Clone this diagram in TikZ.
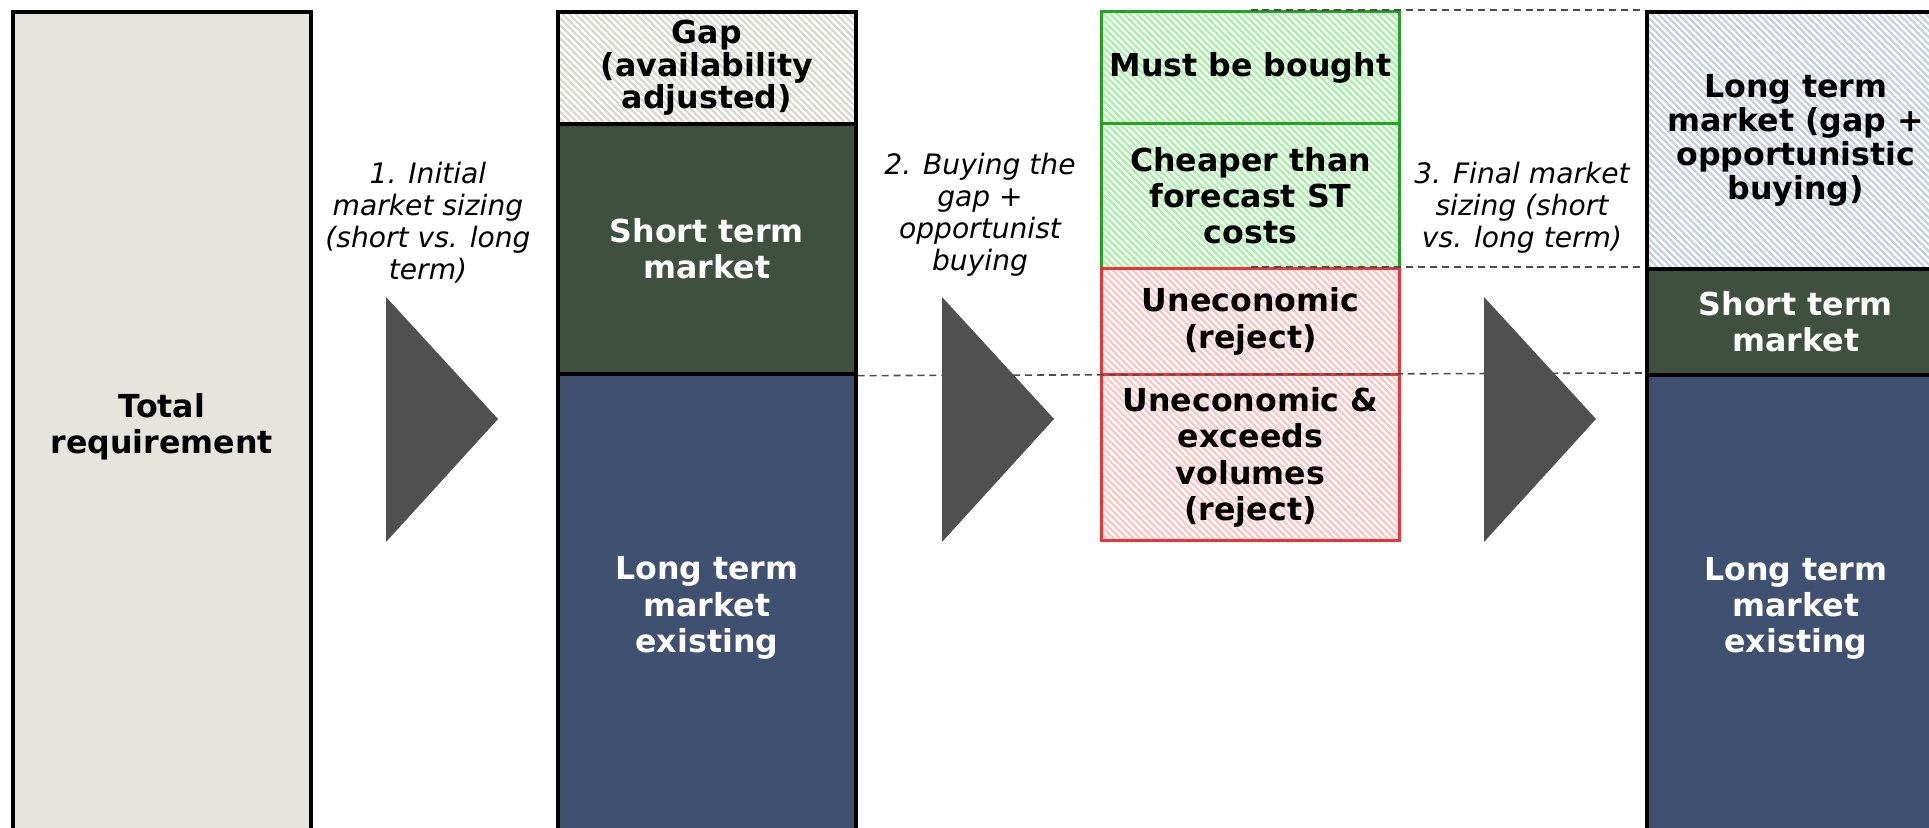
\documentclass[tikz,border=0pt]{standalone}
\usepackage{fontspec}
\setmainfont{DejaVu Sans}
\usetikzlibrary{patterns.meta}
\definecolor{reqbeige}{HTML}{E7E4DE}
\definecolor{stgreen}{HTML}{3F4F40}
\definecolor{ltblue}{HTML}{3F5070}
\definecolor{arrowgray}{HTML}{505050}
\definecolor{gapline}{HTML}{DCD8CF}
\definecolor{buygreen}{HTML}{27A027}
\definecolor{buyline}{HTML}{A8F2A8}
\definecolor{rejred}{HTML}{E83535}
\definecolor{rejline}{HTML}{FFC4C4}
\definecolor{newline}{HTML}{C8D0E0}
\tikzdeclarepattern{
  name=nwhatch,
  type=uncolored,
  bounding box={(-1pt,-1pt) and (3pt,3pt)},
  tile size={(1.9pt,1.9pt)},
  code={\draw[line width=0.65pt] (-0.1pt,2pt) -- (2pt,-0.1pt);}
}
\tikzset{
  bar/.style={draw=black,line width=1pt,inner sep=0pt,anchor=north west,
    minimum width=2.98cm,align=center,
    font=\bfseries\fontsize{9}{10.3}\selectfont},
  darkbar/.style={bar,text=white},
  hatchbar/.style={bar,pattern={nwhatch},pattern color=#1},
  steplabel/.style={align=center,font=\itshape\fontsize{8}{9.1}\selectfont},
  tip/.style={fill=arrowgray},
  guide/.style={draw=black!70,line width=0.45pt,dash pattern=on 2pt off 1.4pt}
}
\begin{document}
\begin{tikzpicture}[x=0.01cm,y=-0.01cm]
  \useasboundingbox (0,0) rectangle (1929,828);
  \node[bar,fill=reqbeige,minimum height=8.30cm] (total) at (11,10) {Total\\requirement};
  \node[hatchbar=gapline,minimum height=1.12cm,font=\bfseries\fontsize{9}{9.3}\selectfont] (gap) at (556,10) {Gap\\(availability\\adjusted)};
  \node[darkbar,fill=stgreen,minimum height=2.50cm] (short) at (556,122) {Short term\\market};
  \node[darkbar,fill=ltblue,minimum height=4.68cm] (long) at (556,372) {Long term\\market\\existing};
  \node[hatchbar=buyline,draw=buygreen,line width=0.8pt,minimum height=1.12cm] (must) at (1100,10) {Must be bought};
  \node[hatchbar=buyline,draw=buygreen,line width=0.8pt,minimum height=1.45cm] (cheap) at (1100,122) {Cheaper than\\forecast ST\\costs};
  \node[hatchbar=rejline,draw=rejred,line width=0.8pt,minimum height=1.06cm] (unecon) at (1100,267) {Uneconomic\\(reject)};
  \node[hatchbar=rejline,draw=rejred,line width=0.8pt,minimum height=1.66cm] (exceed) at (1100,373) {Uneconomic \&\\exceeds\\volumes\\(reject)};
  \node[hatchbar=newline,minimum height=2.57cm,font=\bfseries\fontsize{9}{9.6}\selectfont] (ltnew) at (1645,10) {Long term\\market (gap +\\opportunistic\\buying)};
  \node[darkbar,fill=stgreen,minimum height=1.06cm] (shortfin) at (1645,267) {Short term\\market};
  \node[darkbar,fill=ltblue,minimum height=4.67cm] (longfin) at (1645,373) {Long term\\market\\existing};
  \node[steplabel] (step1) at (428,223) {1. Initial\\market sizing\\(short vs. long\\term)};
  \node[steplabel] (step2) at (980,215) {2. Buying the\\gap +\\opportunist\\buying};
  \node[steplabel] (step3) at (1522,208) {3. Final market\\sizing (short\\vs. long term)};
  \draw[guide] (must.north) -- (ltnew.north west);
  \draw[guide] (unecon.north) -- (shortfin.north west);
  \draw[guide] (short.south east) -- (longfin.north west);
  \foreach \tx in {386,942,1484}
    \fill[tip] (\tx,297) -- ++(112,122) -- ++(-112,123) -- cycle;
\end{tikzpicture}
\end{document}
